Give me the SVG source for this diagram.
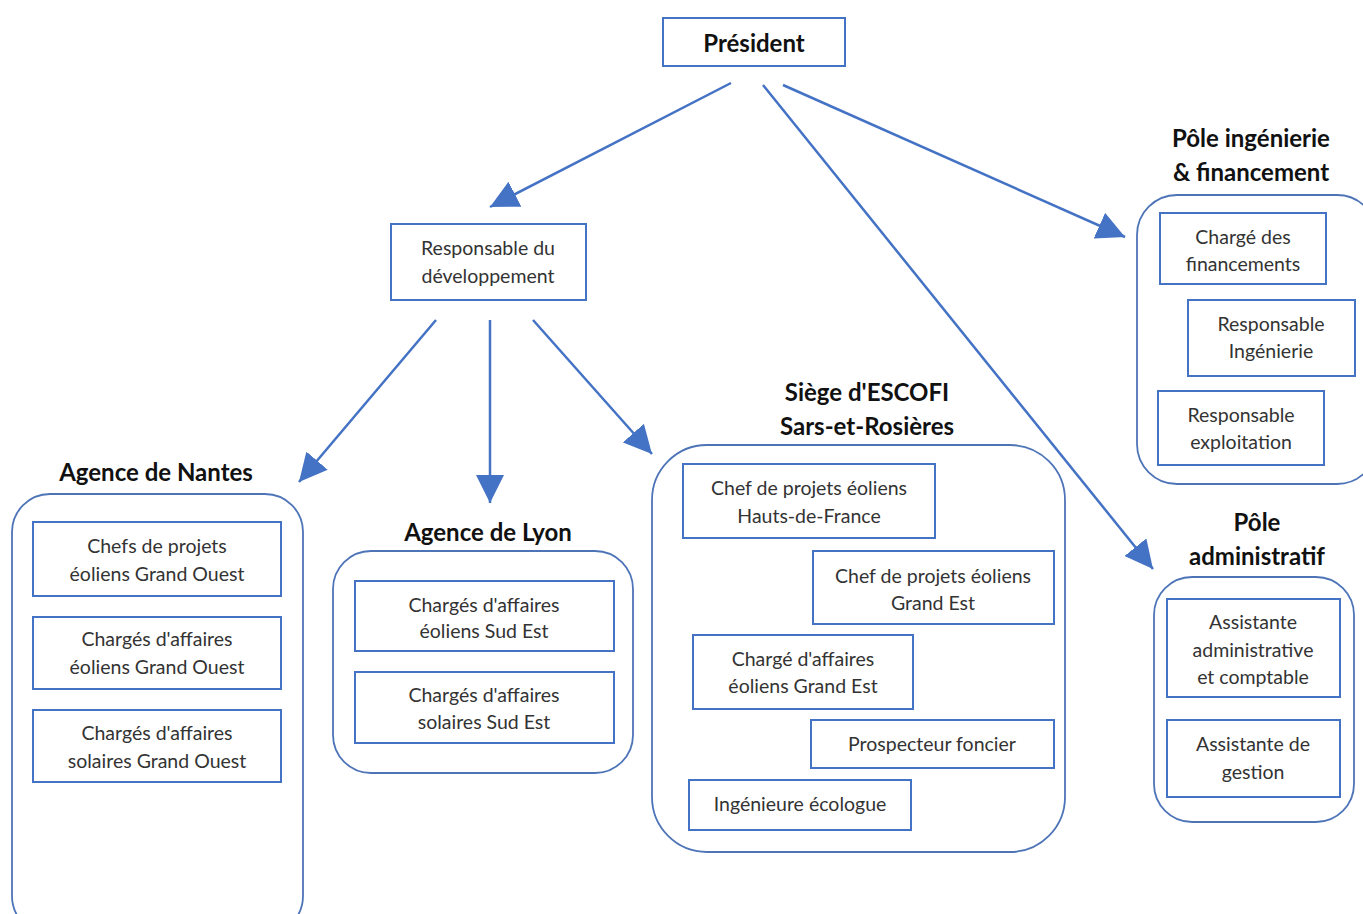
<svg xmlns="http://www.w3.org/2000/svg" width="1363" height="914" viewBox="0 0 1363 914">
<style>
.box{fill:#fff;stroke:#4472c4;stroke-width:2}
.cont{fill:none;stroke:#4e74b8;stroke-width:1.8}
.t{font-family:Lato,"Open Sans","Liberation Sans",sans-serif;font-size:19.5px;fill:#333;text-anchor:middle}
.h{font-family:Lato,"Open Sans","Liberation Sans",sans-serif;font-size:24px;font-weight:bold;fill:#111;text-anchor:middle}
.c{stroke:#4472c4;stroke-width:2.5;fill:none;marker-end:url(#ah)}
</style>
<defs>
<marker id="ah" markerUnits="userSpaceOnUse" markerWidth="30" markerHeight="28" refX="28" refY="14" orient="auto">
<path d="M0,0 L28,14 L0,28 Z" fill="#4472c4"/>
</marker>
</defs>
<rect width="1363" height="914" fill="#fff"/>

<g id="connectors">
<line class="c" x1="731" y1="83" x2="490" y2="207"/>
<line class="c" x1="783" y1="85" x2="1125" y2="237"/>
<line class="c" x1="763" y1="85" x2="1153" y2="569"/>
<line class="c" x1="436" y1="320" x2="299" y2="482"/>
<line class="c" x1="490" y1="320" x2="490" y2="503"/>
<line class="c" x1="533" y1="320" x2="652" y2="454"/>
</g>

<g id="president">
<rect class="box" x="663" y="18" width="182" height="48"/>
<text class="h" x="754" y="52">Président</text>
</g>

<g id="responsable-dev">
<rect class="box" x="391" y="224" width="195" height="76"/>
<text class="t" x="488" y="255">Responsable du</text>
<text class="t" x="488" y="283">développement</text>
</g>

<g id="agence-nantes">
<text class="h" x="156" y="481">Agence de Nantes</text>
<rect class="cont" x="12" y="494" width="291" height="440" rx="38"/>
<rect class="box" x="33" y="522" width="248" height="74"/>
<text class="t" x="157" y="553">Chefs de projets</text>
<text class="t" x="157" y="581">éoliens Grand Ouest</text>
<rect class="box" x="33" y="617" width="248" height="72"/>
<text class="t" x="157" y="646">Chargés d'affaires</text>
<text class="t" x="157" y="674">éoliens Grand Ouest</text>
<rect class="box" x="33" y="710" width="248" height="72"/>
<text class="t" x="157" y="740">Chargés d'affaires</text>
<text class="t" x="157" y="768">solaires Grand Ouest</text>
</g>

<g id="agence-lyon">
<text class="h" x="488" y="541">Agence de Lyon</text>
<rect class="cont" x="333" y="551" width="300" height="222" rx="38"/>
<rect class="box" x="355" y="581" width="259" height="70"/>
<text class="t" x="484" y="612">Chargés d'affaires</text>
<text class="t" x="484" y="638">éoliens Sud Est</text>
<rect class="box" x="355" y="672" width="259" height="71"/>
<text class="t" x="484" y="702">Chargés d'affaires</text>
<text class="t" x="484" y="729">solaires Sud Est</text>
</g>

<g id="siege">
<text class="h" x="867" y="401">Siège d'ESCOFI</text>
<text class="h" x="867" y="435">Sars-et-Rosières</text>
<rect class="cont" x="652" y="445" width="413" height="407" rx="55"/>
<rect class="box" x="683" y="464" width="252" height="74"/>
<text class="t" x="809" y="495">Chef de projets éoliens</text>
<text class="t" x="809" y="523">Hauts-de-France</text>
<rect class="box" x="813" y="551" width="241" height="73"/>
<text class="t" x="933" y="583">Chef de projets éoliens</text>
<text class="t" x="933" y="610">Grand Est</text>
<rect class="box" x="693" y="635" width="220" height="74"/>
<text class="t" x="803" y="666">Chargé d'affaires</text>
<text class="t" x="803" y="693">éoliens Grand Est</text>
<rect class="box" x="811" y="720" width="243" height="48"/>
<text class="t" x="932" y="751">Prospecteur foncier</text>
<rect class="box" x="689" y="780" width="222" height="50"/>
<text class="t" x="800" y="811">Ingénieure écologue</text>
</g>

<g id="pole-ingenierie">
<text class="h" x="1251" y="147">Pôle ingénierie</text>
<text class="h" x="1251" y="181">&amp; financement</text>
<rect class="cont" x="1137" y="195" width="240" height="289" rx="40"/>
<rect class="box" x="1160" y="213" width="166" height="71"/>
<text class="t" x="1243" y="244">Chargé des</text>
<text class="t" x="1243" y="271">financements</text>
<rect class="box" x="1188" y="300" width="167" height="76"/>
<text class="t" x="1271" y="331">Responsable</text>
<text class="t" x="1271" y="358">Ingénierie</text>
<rect class="box" x="1158" y="391" width="166" height="74"/>
<text class="t" x="1241" y="422">Responsable</text>
<text class="t" x="1241" y="449">exploitation</text>
</g>

<g id="pole-administratif">
<text class="h" x="1257" y="531">Pôle</text>
<text class="h" x="1257" y="565">administratif</text>
<rect class="cont" x="1154" y="577" width="200" height="245" rx="38"/>
<rect class="box" x="1167" y="599" width="173" height="98"/>
<text class="t" x="1253" y="629">Assistante</text>
<text class="t" x="1253" y="657">administrative</text>
<text class="t" x="1253" y="684">et comptable</text>
<rect class="box" x="1167" y="720" width="173" height="77"/>
<text class="t" x="1253" y="751">Assistante de</text>
<text class="t" x="1253" y="779">gestion</text>
</g>
</svg>
